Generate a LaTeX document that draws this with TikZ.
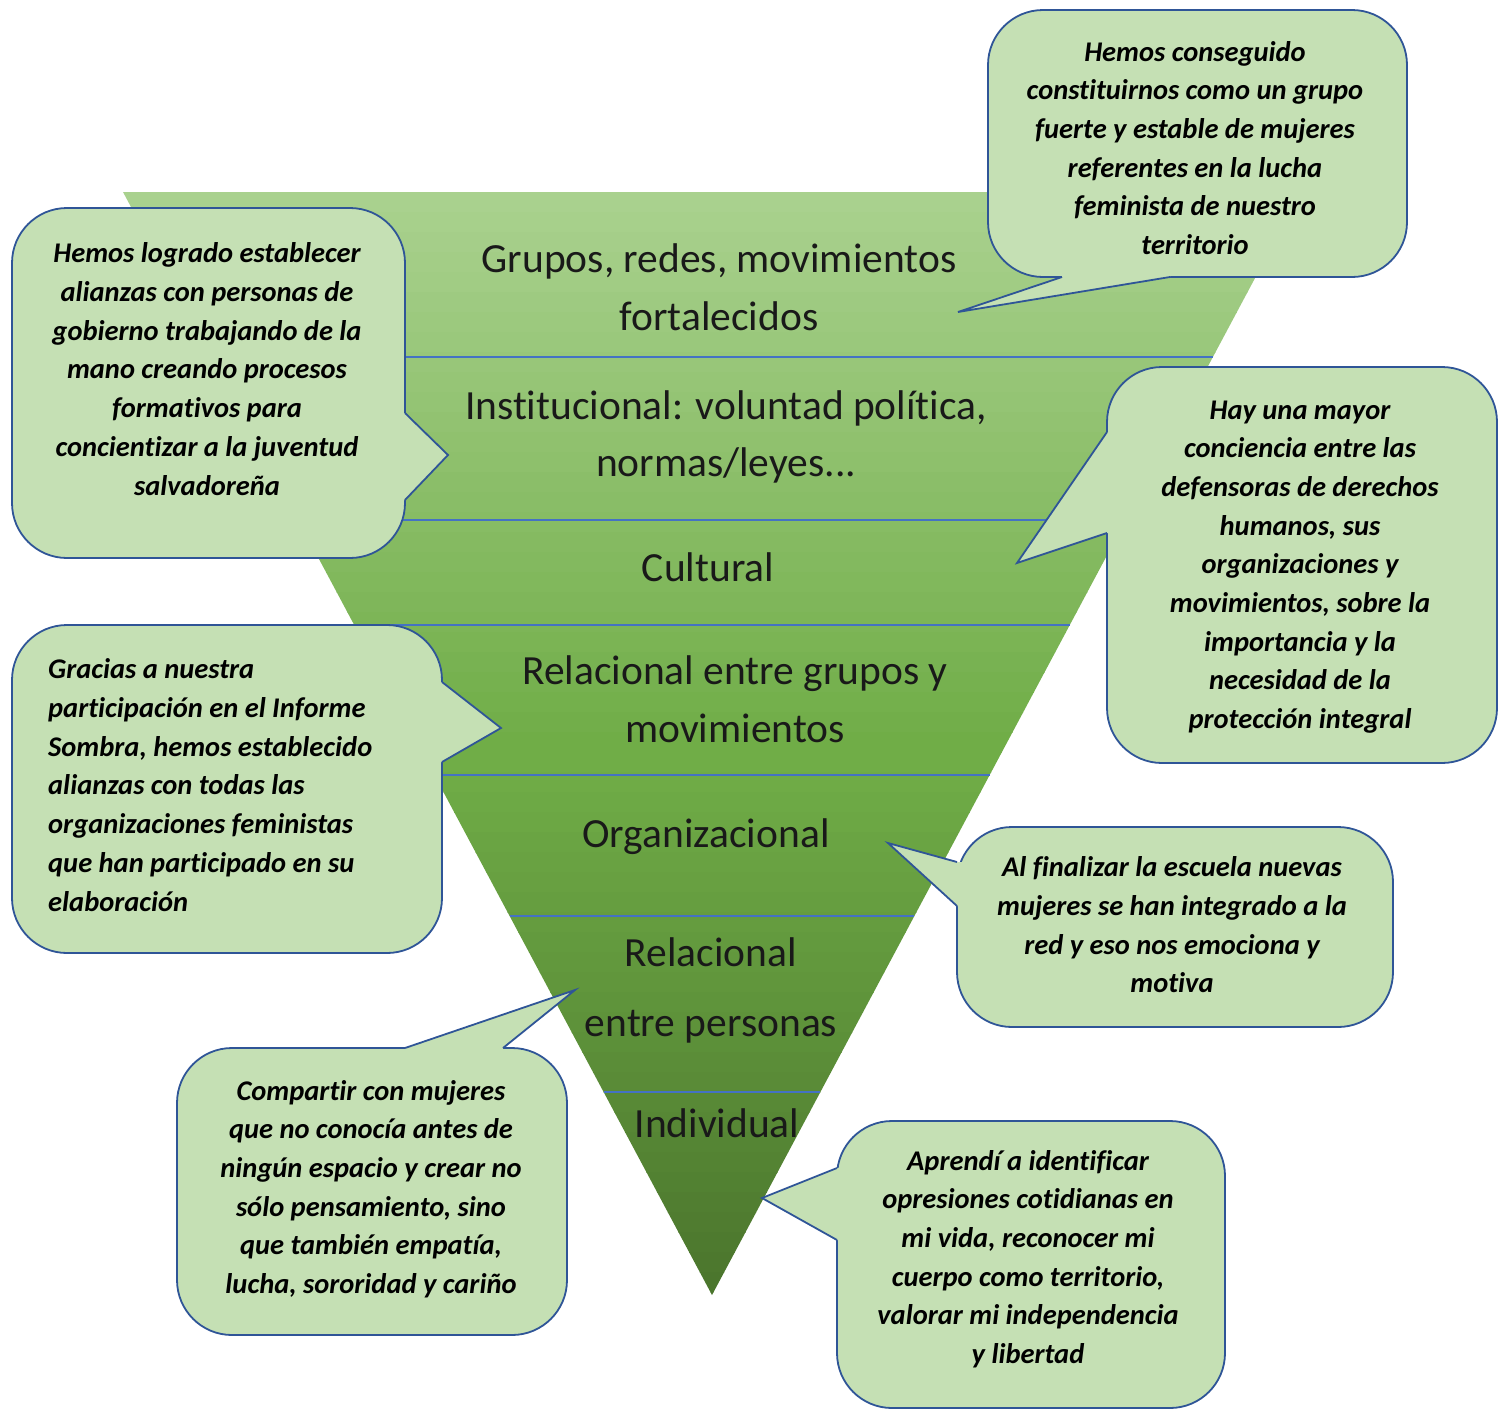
\documentclass[tikz,border=0pt]{standalone}
\usepackage{fontspec}
\setmainfont{Carlito}[Ligatures={NoCommon,NoContextual}]
\usetikzlibrary{calc}
\definecolor{bubblefill}{RGB}{197,224,180}
\definecolor{bubbleline}{RGB}{47,85,151}
\definecolor{bandline}{RGB}{68,114,196}
\definecolor{gtop}{RGB}{169,209,142}
\definecolor{gmid}{RGB}{112,173,71}
\definecolor{gbot}{RGB}{74,116,44}
\begin{document}
\begin{tikzpicture}[x=1pt,y=-1pt,
  bubble/.style={fill=bubblefill,draw=bubbleline,line width=1.8pt,rounded corners=55pt},
  tipfill/.style={fill=bubblefill},
  tipline/.style={draw=bubbleline,line width=1.8pt,line join=miter},
  btext/.style={font=\fontsize{28.5}{38.7}\selectfont\bfseries\itshape,align=center,inner sep=0pt,text=black},
  ttext/.style={font=\fontsize{41.5}{57.5}\selectfont,align=center,inner sep=0pt,text=black!90},
  band/.style={draw=bandline,line width=2pt}]
\useasboundingbox (0,0) rectangle (1499,1411);
% pyramid
\coordinate (TL) at (123,192);
\coordinate (TR) at (1301,192);
\coordinate (A) at (712,1295);
\begin{scope}
\clip (TL) -- (TR) -- (A) -- cycle;
\foreach \i in {0,...,55}{
  \pgfmathsetmacro\p{\i<28 ? \i/27*100 : (\i-28)/27*100}
  \ifnum\i<28 \colorlet{strip}{gmid!\p!gtop}\else\colorlet{strip}{gbot!\p!gmid}\fi
  \fill[strip] (100,{192+\i*20}) rectangle (1320,{192+\i*20+21});
}
\end{scope}
\foreach \t in {0.1496,0.2973,0.3926,0.5286,0.6564,0.8160}{
  \draw[band] ($(TL)!\t!(A)$) -- ($(TR)!\t!(A)$);
}
\node[ttext] (l1) at (719,287) {Grupos, redes, movimientos\\fortalecidos};
\node[ttext] (l2) at (726,437) {Institucional: voluntad polít\kern0pt ica,\\normas/leyes...};
\node[ttext] (l3) at (708,567) {Cultural};
\node[ttext] (l4) at (735,699) {Relacional entre grupos y\\movimientos};
\node[ttext] (l5) at (706,837) {Organizacional};
\node[ttext] (l6a) at (711,952) {Relacional};
\node[ttext] (l6b) at (711,1027) {entre personas};
\node[ttext] (l7) at (717,1123) {Individual};
% bubble 1 (top right)
\path[bubble] (988,10) rectangle (1407,277);
\fill[tipfill] (1062,277) -- (958,312) -- (1170,277) -- (1170,270) -- (1062,270) -- cycle;
\draw[tipline] (1062,277) -- (958,312) -- (1170,277);
\node[btext] (b1) at (1195,148) {Hemos conseguido\\constituirnos como un grupo\\fuerte y estable de mujeres\\referentes en la lucha\\feminista de nuestro\\territorio};
% bubble 2 (left top)
\path[bubble] (12,208) rectangle (405,558);
\fill[tipfill] (405,413) -- (448,455) -- (405,500) -- (398,500) -- (398,413) -- cycle;
\draw[tipline] (405,413) -- (448,455) -- (405,500);
\node[btext] (b2) at (207,369) {Hemos logrado establecer\\alianzas con personas de\\gobierno trabajando de la\\mano creando procesos\\formativos para\\concientizar a la juventud\\salvadoreña};
% bubble 3 (right middle)
\path[bubble] (1107,367) rectangle (1497,763);
\fill[tipfill] (1107,432) -- (1017,563) -- (1107,533) -- (1114,533) -- (1114,432) -- cycle;
\draw[tipline] (1107,432) -- (1017,563) -- (1107,533);
\node[btext] (b3) at (1300,567) {Hay una mayor\\conciencia entre las\\defensoras de derechos\\humanos, sus\\organizaciones y\\movimientos, sobre la\\importancia y la\\necesidad de la\\protección integral};
% bubble 4 (left middle)
\path[bubble] (12,625) rectangle (442,953);
\fill[tipfill] (442,682) -- (501,728) -- (442,762) -- (435,762) -- (435,682) -- cycle;
\draw[tipline] (442,682) -- (501,728) -- (442,762);
\node[btext,align=left,anchor=west] (b4) at (48,785) {Gracias a nuestra\\participación en el Informe\\Sombra, hemos establecido\\alianzas con todas las\\organizaciones feministas\\que han participado en su\\elaboración};
% bubble 5 (right lower)
\path[bubble] (957,827) rectangle (1393,1027);
\fill[tipfill] (957,862) -- (888,843) -- (957,906) -- (964,906) -- (964,862) -- cycle;
\draw[tipline] (957,862) -- (888,843) -- (957,906);
\node[btext] (b5) at (1172,925) {Al finalizar la escuela nuevas\\mujeres se han integrado a la\\red y eso nos emociona y\\motiva};
% bubble 6 (bottom left)
\path[bubble] (177,1048) rectangle (567,1335);
\fill[tipfill] (405,1048) -- (575,990) -- (503,1048) -- (503,1055) -- (405,1055) -- cycle;
\draw[tipline] (405,1048) -- (575,990) -- (503,1048);
\node[btext] (b6) at (371,1189) {Compartir con mujeres\\que no conocía antes de\\ningún espacio y crear no\\sólo pensamiento, sino\\que también empatía,\\lucha, sororidad y cariño};
% bubble 7 (bottom right)
\path[bubble] (837,1121) rectangle (1225,1408);
\fill[tipfill] (837,1168) -- (762,1198) -- (837,1240) -- (844,1240) -- (844,1168) -- cycle;
\draw[tipline] (837,1168) -- (762,1198) -- (837,1240);
\node[btext] (b7) at (1028,1259) {Aprendí a identificar\\opresiones cotidianas en\\mi vida, reconocer mi\\cuerpo como territorio,\\valorar mi independencia\\y libertad};
\end{tikzpicture}
\end{document}
